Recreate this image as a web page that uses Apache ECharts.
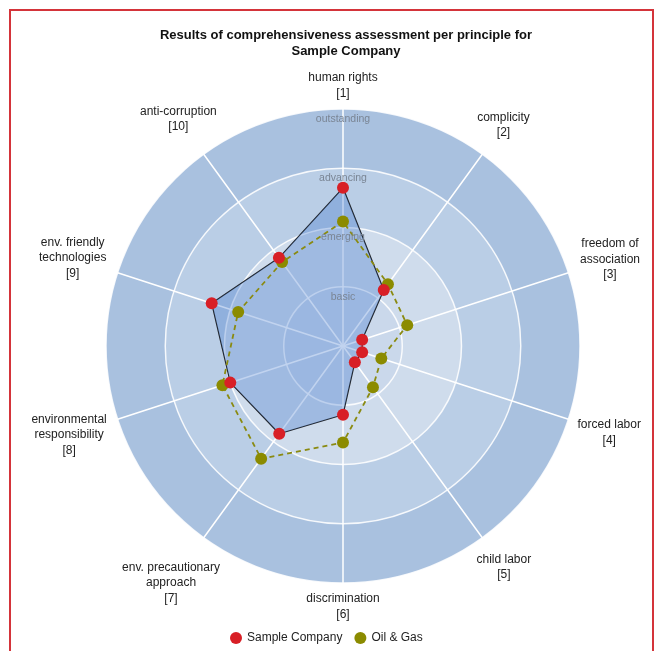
<!DOCTYPE html>
<html>
<head>
<meta charset="utf-8">
<script src="https://cdn.jsdelivr.net/npm/echarts@6/dist/echarts.min.js"></script>
<style>
html, body { margin: 0; padding: 0; background: #fff; }
#main { width: 654px; height: 651px; }
</style>
</head>
<body>
<div id="main"></div>
<script>
// principles, clockwise from the top
var principles = ['human rights\n[1]', 'complicity\n[2]', 'freedom of\nassociation\n[3]', 'forced labor\n[4]',
  'child labor\n[5]', 'discrimination\n[6]', 'env. precautionary\napproach\n[7]',
  'environmental\nresponsibility\n[8]', 'env. friendly\ntechnologies\n[9]', 'anti-corruption\n[10]'];
var levels = ['basic', 'emerging', 'advancing', 'outstanding'];
var sampleCompany = [2.67, 1.17, 0.34, 0.34, 0.34, 1.16, 1.83, 2.0, 2.33, 1.84];
var oilGas = [2.1, 1.29, 1.14, 0.68, 0.86, 1.63, 2.35, 2.14, 1.86, 1.75];

var cx = 343, cy = 346, R = 237;
var FONT = '"Liberation Sans", Arial, sans-serif';

// echarts radar goes counter-clockwise, so flip the order
var order = [0, 9, 8, 7, 6, 5, 4, 3, 2, 1];
function reorder(arr) { return order.map(function (i) { return arr[i]; }); }

var chart = echarts.init(document.getElementById('main'));

// measure text so the names sit just outside the circle
var ctx = document.createElement('canvas').getContext('2d');
ctx.font = '12px ' + FONT;
var graphics = [];
principles.forEach(function (name, i) {
  var lines = name.split('\n');
  var w = 0;
  lines.forEach(function (l) { w = Math.max(w, ctx.measureText(l).width); });
  var h = lines.length * 15.5;
  var a = i * Math.PI * 2 / principles.length;
  var dx = Math.sin(a), dy = -Math.cos(a);
  var d = R + 8 + Math.abs(dx) * w / 2 + Math.abs(dy) * h / 2;
  graphics.push({
    type: 'text', x: cx + dx * d, y: cy + dy * d, z: 10,
    style: { text: name, font: '12px ' + FONT, fill: '#222', align: 'center', verticalAlign: 'middle', lineHeight: 15.5 }
  });
});
levels.forEach(function (lv, i) {
  graphics.push({
    type: 'text', x: cx, y: cy - (i + 1) * R / levels.length + 10, z: 10,
    style: { text: lv, font: '10.5px ' + FONT, fill: '#7a8594', align: 'center', verticalAlign: 'middle' }
  });
});
graphics.push({
  type: 'rect', shape: { x: 10, y: 10, width: 643, height: 700 }, silent: true,
  style: { fill: 'none', stroke: '#d4343a', lineWidth: 2 }
});

var option = {
  backgroundColor: '#fff',
  animation: false,
  title: {
    text: 'Results of comprehensiveness assessment per principle for\nSample Company',
    left: 341, top: 22, textAlign: 'center',
    textStyle: { fontFamily: FONT, fontSize: 13, fontWeight: 'bold', color: '#111', lineHeight: 16 }
  },
  legend: {
    bottom: 2, left: 225,
    itemWidth: 12, itemHeight: 12, itemGap: 12,
    textStyle: { fontFamily: FONT, fontSize: 12, color: '#222' },
    data: [{ name: 'Sample Company', icon: 'circle' }, { name: 'Oil & Gas', icon: 'circle' }]
  },
  radar: {
    center: [cx, cy], radius: R, shape: 'circle', startAngle: 90, splitNumber: 4,
    indicator: reorder(principles).map(function (n) { return { name: n, min: 0, max: 4 }; }),
    axisName: { show: false },
    axisLine: { lineStyle: { color: '#fff', width: 1.5 } },
    splitLine: { lineStyle: { color: 'rgba(255,255,255,0.85)', width: 1.5 } },
    splitArea: { areaStyle: { color: ['#cad8eb', '#cfdcec', '#bacee6', '#a9c1df'] } }
  },
  graphic: graphics,
  series: [{
    // filled area of the company, under everything else
    type: 'radar',
    z: 1,
    data: [{
      name: 'Sample Company',
      value: reorder(sampleCompany),
      symbol: 'none',
      lineStyle: { color: '#222', width: 1.2 },
      areaStyle: { color: 'rgba(45,105,200,0.42)' },
      itemStyle: { color: '#d81f26' }
    }]
  }, {
    type: 'radar',
    z: 2,
    data: [{
      name: 'Oil & Gas',
      value: reorder(oilGas),
      symbol: 'circle', symbolSize: 12,
      lineStyle: { color: '#8a8a10', width: 1.8, type: [5, 4] },
      itemStyle: { color: '#8b8b00' }
    }]
  }, {
    type: 'radar',
    z: 3,
    data: [{
      name: 'Sample Company',
      value: reorder(sampleCompany),
      symbol: 'circle', symbolSize: 12,
      lineStyle: { width: 0 },
      itemStyle: { color: '#d81f26' }
    }]
  }]
};

chart.setOption(option);
</script>
</body>
</html>
